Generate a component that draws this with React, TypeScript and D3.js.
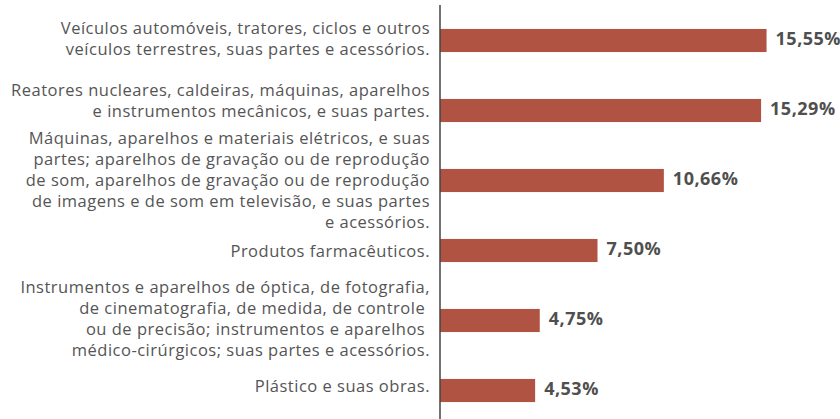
import * as d3 from 'd3';
import React from 'react';

// category labels, already split into the lines of the original
const categories: string[][] = [
  ['Veículos automóveis, tratores, ciclos e outros', 'veículos terrestres, suas partes e acessórios.'],
  ['Reatores nucleares, caldeiras, máquinas, aparelhos', 'e instrumentos mecânicos, e suas partes.'],
  [
    'Máquinas, aparelhos e materiais elétricos, e suas',
    'partes; aparelhos de gravação ou de reprodução',
    'de som, aparelhos de gravação ou de reprodução',
    'de imagens e de som em televisão, e suas partes',
    'e acessórios.',
  ],
  ['Produtos farmacêuticos.'],
  [
    'Instrumentos e aparelhos de óptica, de fotografia,',
    'de cinematografia, de medida, de controle ',
    'ou de precisão; instrumentos e aparelhos ',
    'médico-cirúrgicos; suas partes e acessórios.',
  ],
  ['Plástico e suas obras.'],
];
const values = [15.55, 15.29, 10.66, 7.5, 4.75, 4.53];
const valueLabels = ['15,55%', '15,29%', '10,66%', '7,50%', '4,75%', '4,53%'];

const width = 840;
const height = 419;
const axisX = 440;
const barColor = '#b15343';
const textColor = '#555555';
// the label blocks do not sit exactly centred on their bars
const labelShift = [-2, -10, 0, 1, -2, -4];

export default function App() {
  const ids = categories.map((_, i) => String(i));

  const yScale = d3.scaleBand<string>().domain(ids).range([5.5, 425.5]).paddingInner(0.67).paddingOuter(0.335);

  const xScale = d3.scaleLinear().domain([0, 16]).range([axisX, axisX + 16 * 21]);

  const lineH = 21;

  return (
    <div style={{ position: 'absolute', left: 0, top: 0 }}>
      <svg width={width} height={height} style={{ display: 'block' }}>
        <rect width={width} height={height} fill="#ffffff" />
        {categories.map((lines, i) => {
          const y = yScale(ids[i])!;
          const bw = yScale.bandwidth();
          const cy = y + bw / 2;
          const top = cy - ((lines.length - 1) * lineH) / 2 + labelShift[i];
          return (
            <g key={i}>
              <rect x={xScale(0)} y={y} width={xScale(values[i]) - xScale(0)} height={bw} fill={barColor} />
              <text
                x={xScale(values[i]) + 9}
                y={cy - 1.5}
                dy="0.35em"
                fill="#4f4f4f"
                fontSize={18}
                fontWeight="bold"
                letterSpacing={0.5}
                fontFamily='"Open Sans", sans-serif'
              >
                {valueLabels[i]}
              </text>
              <text
                textAnchor="end"
                fill={textColor}
                fontSize={16.5}
                letterSpacing={0.5}
                fontFamily='"Open Sans", sans-serif'
                style={{ whiteSpace: 'pre' }}
              >
                {lines.map((l, j) => (
                  <tspan key={j} x={axisX - 10} y={top + j * lineH} dy="0.35em">
                    {l}
                  </tspan>
                ))}
              </text>
            </g>
          );
        })}
        <line x1={axisX} x2={axisX} y1={5} y2={419} stroke="#444444" strokeWidth={1.5} />
      </svg>
    </div>
  );
}
